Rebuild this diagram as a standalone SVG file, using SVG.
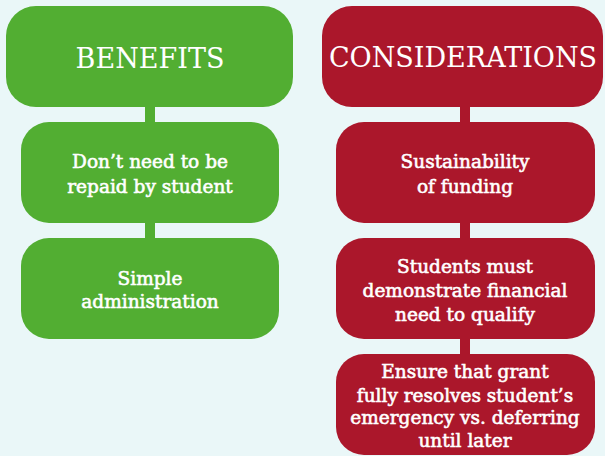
<svg xmlns="http://www.w3.org/2000/svg" width="605" height="456" viewBox="0 0 605 456">
<style>
.g{fill:#52ae32}
.r{fill:#ab172b}
.t{fill:#fff;font-family:"DejaVu Serif","Liberation Serif",serif;text-anchor:middle}
.h{font-size:27px}
.b{font-size:18.5px;stroke:#fff;stroke-width:0.6px}
</style>
<rect width="605" height="456" fill="#eaf7f8"/>
<g id="connectors">
<rect class="g" x="145" y="105" width="10" height="20"/>
<rect class="g" x="145" y="220" width="10" height="20"/>
<rect class="r" x="460" y="105" width="10" height="20"/>
<rect class="r" x="460" y="220" width="10" height="20"/>
<rect class="r" x="460" y="337" width="10" height="20"/>
</g>
<g id="benefits">
<rect class="g" x="6" y="6" width="287" height="101" rx="30"/>
<text class="t h" x="150" y="68">BENEFITS</text>
</g>
<g id="repaid">
<rect class="g" x="21" y="122" width="258" height="101" rx="28"/>
<text class="t b" x="150" y="168">Don’t need to be</text>
<text class="t b" x="150" y="193">repaid by student</text>
</g>
<g id="simple">
<rect class="g" x="21" y="238" width="258" height="101" rx="28"/>
<text class="t b" x="150" y="285">Simple</text>
<text class="t b" x="150" y="308">administration</text>
</g>
<g id="considerations">
<rect class="r" x="322" y="6" width="281" height="101" rx="30"/>
<text class="t h" x="463" y="67">CONSIDERATIONS</text>
</g>
<g id="sustainability">
<rect class="r" x="336" y="122" width="259" height="101" rx="28"/>
<text class="t b" x="465" y="168">Sustainability</text>
<text class="t b" x="465" y="193">of funding</text>
</g>
<g id="need">
<rect class="r" x="336" y="238" width="259" height="101" rx="28"/>
<text class="t b" x="465" y="273">Students must</text>
<text class="t b" x="465" y="297">demonstrate financial</text>
<text class="t b" x="465" y="321">need to qualify</text>
</g>
<g id="ensure">
<rect class="r" x="336" y="354" width="259" height="101" rx="28"/>
<text class="t b" x="465" y="378">Ensure that grant</text>
<text class="t b" x="465" y="402">fully resolves student’s</text>
<text class="t b" x="465" y="424">emergency vs. deferring</text>
<text class="t b" x="465" y="447">until later</text>
</g>
</svg>
